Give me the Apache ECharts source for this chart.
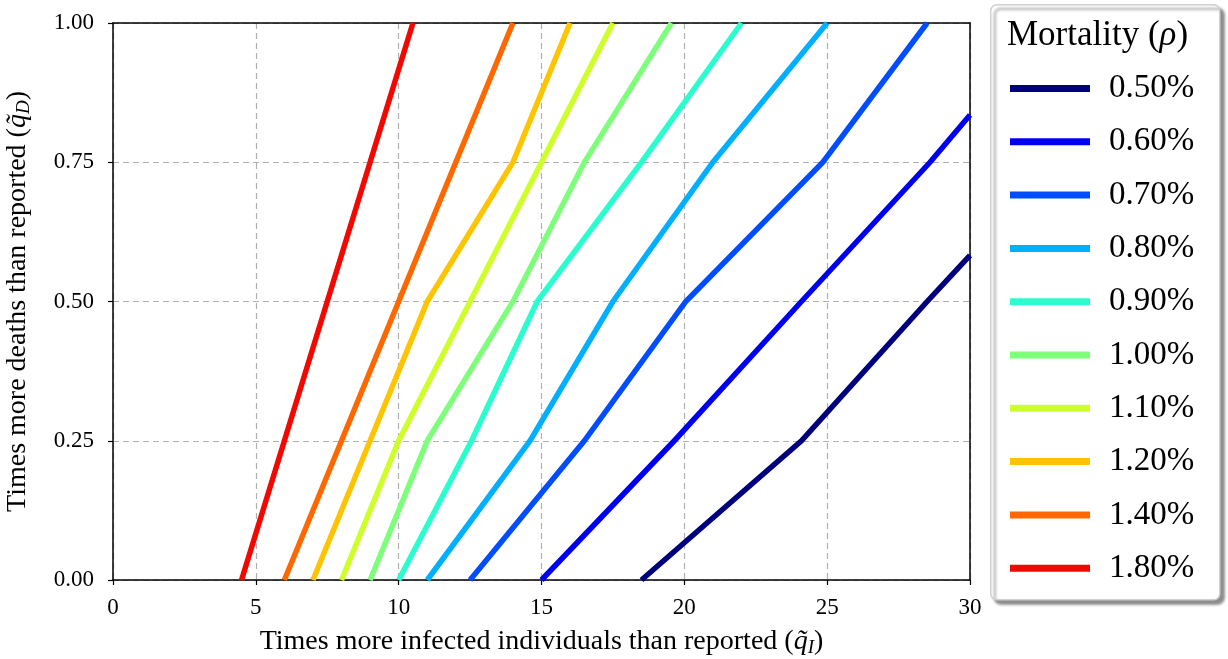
<!DOCTYPE html>
<html><head><meta charset="utf-8">
<script src="https://cdn.jsdelivr.net/npm/echarts@6/dist/echarts.min.js"></script>
<style>html,body{margin:0;padding:0;background:#fff}#c{width:1228px;height:659px}</style>
</head><body><div id="c"></div>
<script>
// Mortality labels and colours (jet colormap)
const mortalityLabels = ['0.50%','0.60%','0.70%','0.80%','0.90%','1.00%','1.10%','1.20%','1.40%','1.80%'];
const lineColors = ['#00007f','#0000f1','#004cff','#00b0ff','#29ffce','#7dff7a','#ceff29','#ffc400','#ff6800','#f10800'];
// Each series: [qI, qD] points
const rho050 = [[18.5,0],[24.1,0.25],[28.5,0.5],[30,0.583]];
const rho060 = [[15.0,0],[19.65,0.25],[24.1,0.5],[28.6,0.75],[30,0.835]];
const rho070 = [[12.5,0],[16.5,0.25],[20.05,0.5],[24.85,0.75],[28.5,1.0]];
const rho080 = [[11.0,0],[14.6,0.25],[17.5,0.5],[21.0,0.75],[25.0,1.0]];
const rho090 = [[10.0,0],[12.55,0.25],[14.85,0.5],[18.5,0.75],[22.0,1.0]];
const rho100 = [[9.0,0],[11.0,0.25],[14.0,0.5],[16.5,0.75],[19.55,1.0]];
const rho110 = [[8.0,0],[10.0,0.25],[12.5,0.5],[15.0,0.75],[17.5,1.0]];
const rho120 = [[7.0,0],[9.0,0.25],[11.0,0.5],[14.0,0.75],[16.0,1.0]];
const rho140 = [[6.0,0],[8.0,0.25],[10.0,0.5],[12.0,0.75],[14.0,1.0]];
const rho180 = [[4.5,0],[6.0,0.25],[7.5,0.5],[9.0,0.75],[10.5,1.0]];
const seriesData = [rho050,rho060,rho070,rho080,rho090,rho100,rho110,rho120,rho140,rho180];
const xTicks = [0,5,10,15,20,25,30];
const yTicks = [0,0.25,0.5,0.75,1.0];

const FONT = 'Liberation Serif';
const NAME_SIZE = 28;
const nameRich = () => ({
  i: {fontFamily: FONT, fontSize: NAME_SIZE, fontStyle: 'italic'},
  s: {fontFamily: FONT, fontSize: 19, fontStyle: 'italic', padding: [12,0,0,0]}
});
const frameAxis = {show: true, axisLine: {show: true, onZero: false, lineStyle: {color: '#000', width: 1.5}},
  axisTick: {show: false}, axisLabel: {show: false}, splitLine: {show: false}};

const chart = echarts.init(document.getElementById('c'));
chart.setOption({
  animation: false,
  textStyle: {fontFamily: FONT, color: '#000'},
  grid: {left: 113, right: 258, top: 23, bottom: 79, containLabel: false, outerBoundsMode: 'none'},
  xAxis: [{
    type: 'value', min: xTicks[0], max: xTicks[xTicks.length-1], interval: 5,
    axisLine: {show: true, onZero: false, lineStyle: {color: '#000', width: 1.5}},
    axisTick: {show: true, inside: false, length: 5, lineStyle: {color: '#000', width: 1.2}},
    axisLabel: {fontFamily: FONT, fontSize: 23, color: '#000', margin: 16},
    splitLine: {show: true, lineStyle: {color: '#b0b0b0', type: [6, 4], width: 1.2}},
    name: 'Times more infected individuals than reported ({i|q\u0303}{s|I})',
    nameLocation: 'middle', nameGap: 46,
    nameTextStyle: {fontFamily: FONT, fontSize: NAME_SIZE, color: '#000', rich: nameRich()}
  }, Object.assign({type: 'value', position: 'top', min: xTicks[0], max: xTicks[xTicks.length-1]}, frameAxis)],
  yAxis: [{
    type: 'value', min: yTicks[0], max: yTicks[yTicks.length-1], interval: 0.25,
    axisLine: {show: true, onZero: false, lineStyle: {color: '#000', width: 1.5}},
    axisTick: {show: true, inside: false, length: 5, lineStyle: {color: '#000', width: 1.2}},
    axisLabel: {fontFamily: FONT, fontSize: 23, color: '#000', margin: 19, formatter: v => v.toFixed(2)},
    splitLine: {show: true, lineStyle: {color: '#b0b0b0', type: [6, 4], width: 1.2}},
    name: 'Times more deaths than reported ({i|q\u0303}{s|D})',
    nameLocation: 'middle', nameGap: 80, nameRotate: 90,
    nameTextStyle: {fontFamily: FONT, fontSize: NAME_SIZE, color: '#000', rich: nameRich()}
  }, Object.assign({type: 'value', position: 'right', min: yTicks[0], max: yTicks[yTicks.length-1]}, frameAxis)],
  graphic: [{
    type: 'rect', left: 990, top: 4, z: 0,
    shape: {width: 229, height: 595, r: 6},
    style: {fill: '#fff', stroke: '#cfcfcf', lineWidth: 1.5, shadowColor: 'rgba(0,0,0,0.45)', shadowOffsetX: 4, shadowOffsetY: 4, shadowBlur: 3}
  }],
  title: {
    text: 'Mortality ({i|\u03c1})', left: 1002, top: 13,
    textStyle: {fontFamily: FONT, fontSize: 35, fontWeight: 'normal', color: '#000',
      rich: {i: {fontFamily: FONT, fontSize: 35, fontStyle: 'italic'}}}
  },
  legend: {
    orient: 'vertical', left: 1005, top: 67, icon: 'rect', itemWidth: 80, itemHeight: 7, itemGap: 20.3,
    data: mortalityLabels,
    textStyle: {fontFamily: FONT, fontSize: 33, color: '#000', padding: [0,0,0,14], lineHeight: 33}
  },
  series: seriesData.map((d, i) => ({
    name: mortalityLabels[i], type: 'line', data: d, showSymbol: false, symbol: 'none', clip: true,
    color: lineColors[i], lineStyle: {color: lineColors[i], width: 5.5, cap: 'butt', join: 'miter'}, z: 3
  }))
});
</script></body></html>
